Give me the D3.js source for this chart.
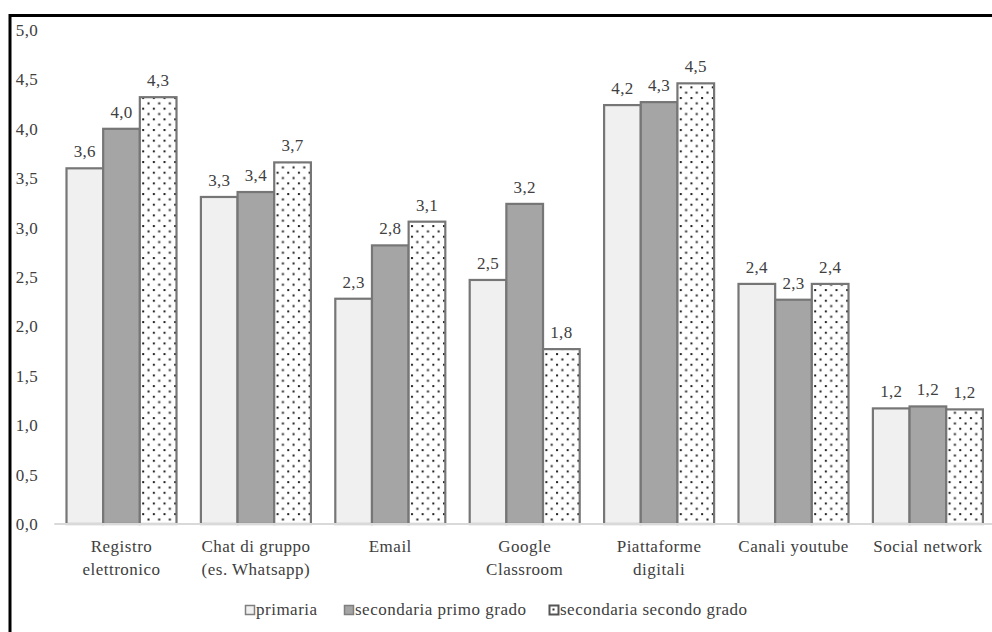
<!DOCTYPE html>
<html>
<head>
<meta charset="utf-8">
<script src="https://cdn.jsdelivr.net/npm/d3@7"></script>
<style>
  html, body { margin: 0; padding: 0; background: #fff; }
</style>
</head>
<body>
<svg id="chart" width="992" height="632" font-family="'Liberation Serif', serif"></svg>
<script>
// Categories (x labels, split over lines)
const categories = [
  ["Registro", "elettronico"],
  ["Chat di gruppo", "(es. Whatsapp)"],
  ["Email"],
  ["Google", "Classroom"],
  ["Piattaforme", "digitali"],
  ["Canali youtube"],
  ["Social network"]
];
const seriesNames = ["primaria", "secondaria primo grado", "secondaria secondo grado"];
const primaria       = [3.60, 3.31, 2.28, 2.47, 4.24, 2.43, 1.17];
const primoGrado     = [4.00, 3.36, 2.82, 3.24, 4.27, 2.27, 1.19];
const secondoGrado   = [4.32, 3.66, 3.06, 1.77, 4.46, 2.43, 1.16];
const yTicks = [0, 0.5, 1, 1.5, 2, 2.5, 3, 3.5, 4, 4.5, 5];

const seriesValues = [primaria, primoGrado, secondoGrado];
const catKeys = categories.map(c => c.join(" "));

const svg = d3.select("#chart");
const textColor = "#404040";
const fontSize = 17;
const it = d3.formatLocale({ decimal: ",", thousands: ".", grouping: [3], currency: ["", "€"] });
const fmt = it.format(".1f");

// Dotted fill for the third series
const defs = svg.append("defs");
const pat = defs.append("pattern")
  .attr("id", "dots")
  .attr("patternUnits", "userSpaceOnUse")
  .attr("width", 10.67).attr("height", 10.67);
pat.append("rect").attr("width", 10.67).attr("height", 10.67).attr("fill", "#fff");
pat.append("rect").attr("x", 1).attr("y", 1).attr("width", 2).attr("height", 2).attr("fill", "#222");
pat.append("rect").attr("x", 6.33).attr("y", 6.33).attr("width", 2).attr("height", 2).attr("fill", "#222");

const fills = ["#f0f0f0", "#a5a5a5", "url(#dots)"];

// Scales
const pIn = 24.4 / 134.4;
const x0 = d3.scaleBand().domain(catKeys).range([54.3, 995.1]).paddingInner(pIn).paddingOuter(pIn / 2);
const x1 = d3.scaleBand().domain(seriesNames).range([0, x0.bandwidth()]);
const y = d3.scaleLinear().domain([0, 5]).range([524, 30]);

// Frame
svg.append("rect")
  .attr("x", 10).attr("y", 15.5).attr("width", 1000).attr("height", 700)
  .attr("fill", "none").attr("stroke", "#000").attr("stroke-width", 3);

// Y tick labels
svg.append("g").selectAll("text").data(yTicks).join("text")
  .attr("x", 38).attr("y", d => y(d)).attr("dy", "0.35em")
  .attr("text-anchor", "end")
  .attr("fill", textColor)
  .attr("font-size", fontSize).attr("letter-spacing", 0.3)
  .text(d => fmt(d));

// Bars
const groups = svg.append("g").selectAll("g").data(catKeys).join("g")
  .attr("transform", d => `translate(${x0(d)},0)`);

groups.each(function (cat, ci) {
  const g = d3.select(this);
  seriesNames.forEach((s, si) => {
    const v = seriesValues[si][ci];
    g.append("rect")
      .attr("x", x1(s)).attr("y", y(v))
      .attr("width", x1.bandwidth()).attr("height", y(0) - y(v))
      .attr("fill", fills[si]).attr("stroke", "#767676").attr("stroke-width", 2.2);
    g.append("text")
      .attr("x", x1(s) + x1.bandwidth() / 2).attr("y", y(v) - 11)
      .attr("text-anchor", "middle")
      .attr("fill", textColor)
      .attr("font-size", fontSize).attr("letter-spacing", 0.3)
      .text(fmt(v));
  });
});

// Category axis line
svg.append("line")
  .attr("x1", 54.3).attr("x2", 992).attr("y1", y(0)).attr("y2", y(0))
  .attr("stroke", "#d9d9d9").attr("stroke-width", 2);

// Category labels
const xl = svg.append("g").selectAll("text").data(categories).join("text")
  .attr("x", (d, i) => x0(catKeys[i]) + x0.bandwidth() / 2)
  .attr("y", 552)
  .attr("text-anchor", "middle")
  .attr("fill", textColor)
  .attr("font-size", fontSize).attr("letter-spacing", 0.5);
xl.selectAll("tspan").data(d => d).join("tspan")
  .attr("x", function () { return d3.select(this.parentNode).attr("x"); })
  .attr("dy", (d, i) => i === 0 ? 0 : 23)
  .text(d => d);

// Legend
const legendX = [245, 344, 549];
const leg = svg.append("g").selectAll("g").data(seriesNames).join("g")
  .attr("transform", (d, i) => `translate(${legendX[i]},605)`);
leg.append("rect")
  .attr("x", 0.5).attr("y", 0.5).attr("width", 9).attr("height", 9)
  .attr("fill", (d, i) => i === 2 ? "#fff" : fills[i])
  .attr("stroke", (d, i) => i === 2 ? "#555" : "#7f7f7f").attr("stroke-width", (d, i) => i === 2 ? 2 : 1.5);
leg.filter((d, i) => i === 2).append("rect")
  .attr("x", 3.5).attr("y", 3.5).attr("width", 2).attr("height", 2).attr("fill", "#333");
leg.append("text")
  .attr("x", 11).attr("y", 10)
  .attr("fill", textColor)
  .attr("font-size", fontSize).attr("letter-spacing", 0.5)
  .text(d => d);
</script>
</body>
</html>
